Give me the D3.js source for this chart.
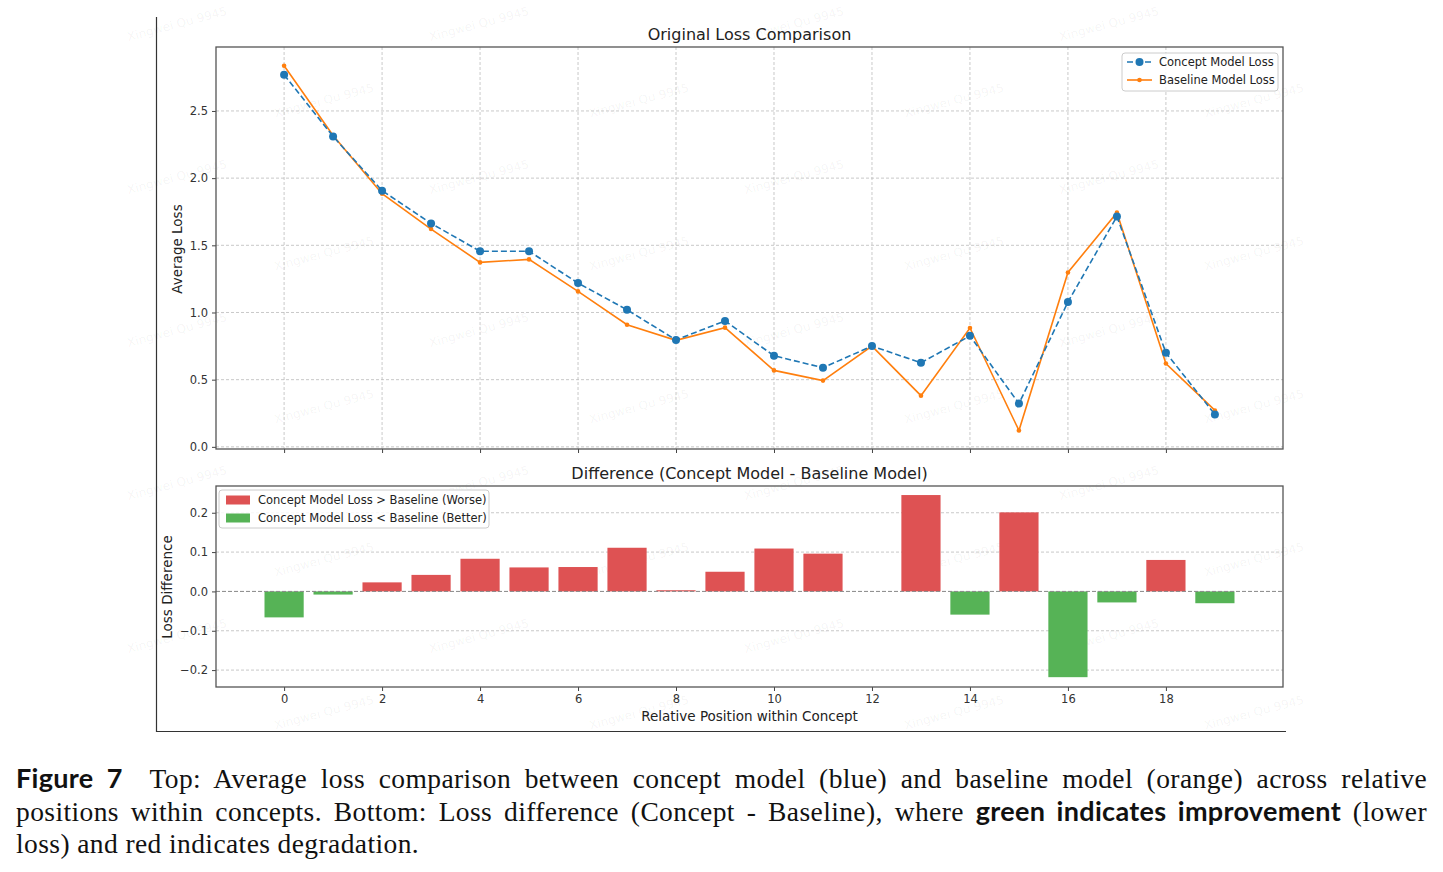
<!DOCTYPE html>
<html lang="en">
<head>
<meta charset="UTF-8">
<title>Loss Comparison</title>
<script src="https://d3js.org/d3.v7.min.js"></script>
<style>
    body { margin: 0; background: #fff; }
    #wrap { position: relative; width: 1443px; height: 872px; }
    svg { position: absolute; left: 0; top: 0; }
    .cap { position: absolute; left: 16px; width: 1411px; font-family: "Liberation Serif", "DejaVu Serif", serif;
           font-size: 27.5px; letter-spacing: 0.4px; color: #111; white-space: nowrap; line-height: 33px; }
    .cap.just { text-align: justify; text-align-last: justify; white-space: normal; }
    .cap b { font-family: Lato, Inter, "DejaVu Sans", sans-serif; font-weight: 700; font-size: 27px; letter-spacing: 0.3px; }
</style>
</head>
<body>
<div id="wrap">
    <svg width="1443" height="872" font-family="DejaVu Sans, sans-serif"></svg>
    <div class="cap just" style="top:761px"><b>Figure 7</b>&nbsp; Top: Average loss comparison between concept model (blue) and baseline model (orange) across relative</div>
    <div class="cap just" style="top:794px">positions within concepts. Bottom: Loss difference (Concept - Baseline), where <b>green indicates improvement</b> (lower</div>
    <div class="cap" style="top:827px">loss) and red indicates degradation.</div>
</div>
<script>
    // data
    var positions = d3.range(20);
    var conceptLoss = [2.77, 2.31, 1.907, 1.663, 1.456, 1.456, 1.219, 1.02, 0.796, 0.937,
                       0.678, 0.589, 0.75, 0.626, 0.826, 0.322, 1.078, 1.715, 0.70, 0.241];
    var baselineLoss = [2.836, 2.318, 1.884, 1.621, 1.373, 1.395, 1.157, 0.909, 0.793, 0.887,
                        0.569, 0.493, 0.75, 0.381, 0.885, 0.122, 1.298, 1.743, 0.62, 0.271];
    var lossDiff = [-0.066, -0.008, 0.023, 0.042, 0.083, 0.061, 0.062, 0.111, 0.003, 0.05,
                    0.109, 0.096, 0.0, 0.245, -0.059, 0.201, -0.218, -0.028, 0.08, -0.03];
    var xTicks = [0, 2, 4, 6, 8, 10, 12, 14, 16, 18];
    var topTicks = [0.0, 0.5, 1.0, 1.5, 2.0, 2.5];
    var botTicks = [-0.2, -0.1, 0.0, 0.1, 0.2];

    var blue = "#1f77b4", orange = "#ff7f0e", red = "#de5253", green = "#56b356";

    var svg = d3.select("svg");

    // watermark
    var wm = svg.append("g").attr("fill", "#000").attr("fill-opacity", 0.05)
        .attr("font-size", 12).attr("text-anchor", "middle");
    for (var r = 0; r < 10; r++) {
        var cols = r % 2 === 0 ? [178, 480, 795, 1110] : [325, 640, 955, 1255];
        cols.forEach(function(cx) {
            wm.append("text").attr("transform", "translate(" + cx + "," + (28 + r * 76.5) + ")rotate(-15)")
                .text("Xingwei Qu 9945");
        });
    }

    // frame of the screenshot
    svg.append("line").attr("x1", 156.5).attr("x2", 156.5).attr("y1", 17).attr("y2", 732)
        .attr("stroke", "#333").attr("stroke-width", 1.2);
    svg.append("line").attr("x1", 156).attr("x2", 1286).attr("y1", 731.5).attr("y2", 731.5)
        .attr("stroke", "#333").attr("stroke-width", 1.2);

    var left = 216, right = 1283;
    var x = d3.scaleLinear().domain([-1.39, 20.39]).range([left, right]);

    function styleAxis(g) {
        g.select(".domain").remove();
        g.selectAll("line").attr("stroke", "#444");
        g.selectAll("text").attr("font-size", 11.5).attr("fill", "#333").attr("font-family", "DejaVu Sans");
    }

    // ---------- top panel ----------
    var yTop = d3.scaleLinear().domain([-0.016, 2.976]).range([449, 47]);
    var gTop = svg.append("g");

    gTop.append("g").selectAll("line").data(xTicks).enter().append("line")
        .attr("x1", x).attr("x2", x).attr("y1", 47).attr("y2", 449)
        .attr("stroke", "#bbb").attr("stroke-width", 0.8).attr("stroke-dasharray", "3,2");
    gTop.append("g").selectAll("line").data(topTicks).enter().append("line")
        .attr("x1", left).attr("x2", right).attr("y1", yTop).attr("y2", yTop)
        .attr("stroke", "#bbb").attr("stroke-width", 0.8).attr("stroke-dasharray", "3,2");

    gTop.append("g").attr("transform", "translate(0,449)")
        .call(d3.axisBottom(x).tickValues(xTicks).tickFormat("").tickSize(4))
        .call(styleAxis);
    gTop.append("g").attr("transform", "translate(" + left + ",0)")
        .call(d3.axisLeft(yTop).tickValues(topTicks).tickFormat(d3.format(".1f")).tickSize(4).tickPadding(4))
        .call(styleAxis);

    var lineTop = d3.line().x(function(d, i) { return x(positions[i]); }).y(function(d) { return yTop(d); });

    gTop.append("path").datum(baselineLoss).attr("d", lineTop)
        .attr("fill", "none").attr("stroke", orange).attr("stroke-width", 1.6);
    gTop.append("g").selectAll("circle").data(baselineLoss).enter().append("circle")
        .attr("cx", function(d, i) { return x(positions[i]); }).attr("cy", yTop)
        .attr("r", 2.3).attr("fill", orange);

    gTop.append("path").datum(conceptLoss).attr("d", lineTop)
        .attr("fill", "none").attr("stroke", blue).attr("stroke-width", 1.6).attr("stroke-dasharray", "6,3");
    gTop.append("g").selectAll("circle").data(conceptLoss).enter().append("circle")
        .attr("cx", function(d, i) { return x(positions[i]); }).attr("cy", yTop)
        .attr("r", 4).attr("fill", blue);

    gTop.append("rect").attr("x", left).attr("y", 47).attr("width", right - left).attr("height", 402)
        .attr("fill", "none").attr("stroke", "#555").attr("stroke-width", 1.3);

    gTop.append("text").attr("x", (left + right) / 2).attr("y", 40).attr("text-anchor", "middle")
        .attr("font-size", 16).attr("fill", "#222").text("Original Loss Comparison");
    gTop.append("text").attr("transform", "translate(182,249)rotate(-90)").attr("text-anchor", "middle")
        .attr("font-size", 13.5).attr("fill", "#222").text("Average Loss");

    // legend top
    var lg1 = gTop.append("g");
    lg1.append("rect").attr("x", 1122).attr("y", 53).attr("width", 156).attr("height", 38).attr("rx", 3)
        .attr("fill", "#fff").attr("fill-opacity", 0.85).attr("stroke", "#ccc");
    var lgItems = [
        { label: "Concept Model Loss", color: blue, dash: "6,3", r: 4 },
        { label: "Baseline Model Loss", color: orange, dash: null, r: 2.3 }
    ];
    lgItems.forEach(function(d, i) {
        var yy = 62 + i * 18;
        lg1.append("line").attr("x1", 1127).attr("x2", 1152).attr("y1", yy).attr("y2", yy)
            .attr("stroke", d.color).attr("stroke-width", 1.6).attr("stroke-dasharray", d.dash);
        lg1.append("circle").attr("cx", 1139.5).attr("cy", yy).attr("r", d.r).attr("fill", d.color);
        lg1.append("text").attr("x", 1159).attr("y", yy).attr("dy", "0.35em")
            .attr("font-size", 11.5).attr("fill", "#222").text(d.label);
    });

    // ---------- bottom panel ----------
    var yBot = d3.scaleLinear().domain([-0.243, 0.268]).range([687, 486]);
    var gBot = svg.append("g");

    gBot.append("g").selectAll("line").data(botTicks.filter(function(d) { return d !== 0; })).enter().append("line")
        .attr("x1", left).attr("x2", right).attr("y1", yBot).attr("y2", yBot)
        .attr("stroke", "#bbb").attr("stroke-width", 0.8).attr("stroke-dasharray", "3,2");

    gBot.append("g").selectAll("rect").data(lossDiff).enter().append("rect")
        .attr("x", function(d, i) { return x(positions[i] - 0.4); })
        .attr("width", x(0.8) - x(0))
        .attr("y", function(d) { return yBot(Math.max(0, d)); })
        .attr("height", function(d) { return Math.abs(yBot(d) - yBot(0)); })
        .attr("fill", function(d) { return d > 0 ? red : green; });

    gBot.append("line").attr("x1", left).attr("x2", right).attr("y1", yBot(0)).attr("y2", yBot(0))
        .attr("stroke", "#888").attr("stroke-width", 1).attr("stroke-dasharray", "4,2");

    gBot.append("g").attr("transform", "translate(0,687)")
        .call(d3.axisBottom(x).tickValues(xTicks).tickFormat(d3.format("d")).tickSize(4).tickPadding(4))
        .call(styleAxis);
    gBot.append("g").attr("transform", "translate(" + left + ",0)")
        .call(d3.axisLeft(yBot).tickValues(botTicks).tickFormat(function(d) { return d3.format(".1f")(d).replace("-", "\u2212"); })
            .tickSize(4).tickPadding(4))
        .call(styleAxis);

    gBot.append("rect").attr("x", left).attr("y", 486).attr("width", right - left).attr("height", 201)
        .attr("fill", "none").attr("stroke", "#555").attr("stroke-width", 1.3);

    gBot.append("text").attr("x", (left + right) / 2).attr("y", 479).attr("text-anchor", "middle")
        .attr("font-size", 16).attr("fill", "#222").text("Difference (Concept Model - Baseline Model)");
    gBot.append("text").attr("transform", "translate(172,587)rotate(-90)").attr("text-anchor", "middle")
        .attr("font-size", 13.5).attr("fill", "#222").text("Loss Difference");
    gBot.append("text").attr("x", (left + right) / 2).attr("y", 721).attr("text-anchor", "middle")
        .attr("font-size", 13.5).attr("fill", "#222").text("Relative Position within Concept");

    // legend bottom
    var lg2 = gBot.append("g");
    lg2.append("rect").attr("x", 219).attr("y", 490).attr("width", 270).attr("height", 38).attr("rx", 3)
        .attr("fill", "#fff").attr("fill-opacity", 0.85).attr("stroke", "#ccc");
    var barItems = [
        { label: "Concept Model Loss > Baseline (Worse)", color: red },
        { label: "Concept Model Loss < Baseline (Better)", color: green }
    ];
    barItems.forEach(function(d, i) {
        var yy = 500 + i * 18;
        lg2.append("rect").attr("x", 226).attr("y", yy - 4.5).attr("width", 24).attr("height", 9).attr("fill", d.color);
        lg2.append("text").attr("x", 258).attr("y", yy).attr("dy", "0.35em")
            .attr("font-size", 11.5).attr("fill", "#222").text(d.label);
    });
</script>
</body>
</html>
